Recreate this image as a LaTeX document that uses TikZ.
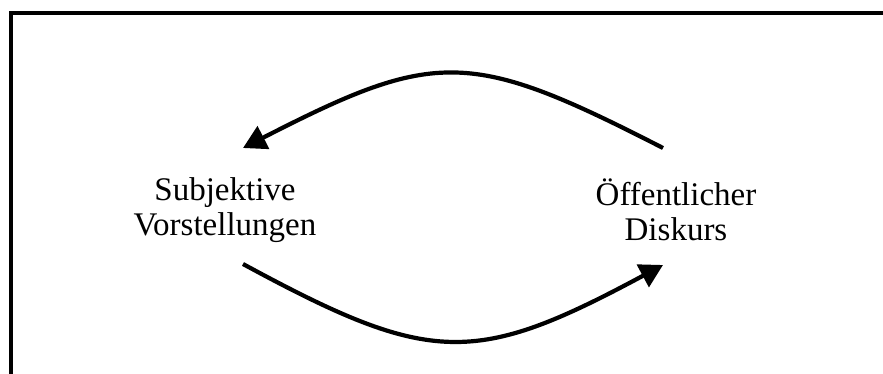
\documentclass[tikz,border=0pt]{standalone}
\usepackage{fontspec}
\setmainfont{Liberation Serif}
\usetikzlibrary{arrows.meta}
\tikzset{
  label text/.style={align=center, font=\fontsize{33}{35}\selectfont, inner sep=0pt},
  flow/.style={line width=4.2pt, -{Triangle[length=23pt, width=25pt]}},
  frame/.style={line width=4pt}
}
\begin{document}
\begin{tikzpicture}[x=1pt, y=-1pt]
  \useasboundingbox (0,0) rectangle (883,374);
  \clip (0,0) rectangle (883,374);
  % open frame: only the top and left edges fall inside the page
  \draw[frame] (11.3,400) -- (11.3,13.5) -- (900,13.5);

  % the two positions
  \node[label text] (sv) at (225,210) {Subjektive\\Vorstellungen};
  \node[label text] (od) at (676,210) {Öffentlicher\\Diskurs};

  % connector end points
  \coordinate (odTop) at (663,148);
  \coordinate (svTop) at (243,148);
  \coordinate (svBot) at (243,264);
  \coordinate (odBot) at (663,265);

  % discourse feeds back into subjective ideas (upper arc)
  \draw[flow] (odTop) .. controls (470,49) and (436,49) .. (svTop);
  % subjective ideas enter public discourse (lower arc)
  \draw[flow] (svBot) .. controls (431,366) and (475,366) .. (odBot);
\end{tikzpicture}
\end{document}
